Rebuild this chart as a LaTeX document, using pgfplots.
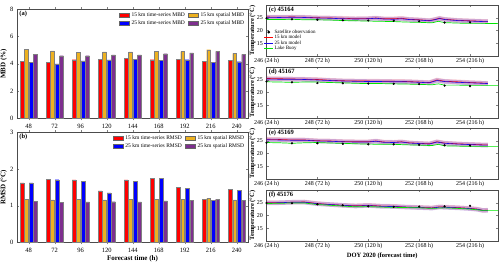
\documentclass[border=0pt]{standalone}
\usepackage{fontspec}
\setmainfont{Liberation Serif}
\usepackage{pgfplots}
\pgfplotsset{compat=1.18}
\usepackage{pgfplotstable}
\definecolor{mred}{RGB}{255,0,0}
\definecolor{morange}{RGB}{237,177,32}
\definecolor{mblue}{RGB}{0,0,255}
\definecolor{mpurple}{RGB}{126,47,142}
\definecolor{mgreen}{RGB}{0,230,0}

\pgfplotstableread{
i r o b p
0 4.20 5.05 4.10 4.70
1 4.10 4.95 4.00 4.60
2 4.30 4.86 4.22 4.60
3 4.35 4.87 4.28 4.65
4 4.40 4.87 4.33 4.65
5 4.30 4.90 4.25 4.74
6 4.35 4.90 4.30 4.80
7 4.20 5.04 4.10 4.91
8 4.25 4.76 4.16 4.70
}\mbd

\pgfplotstableread{
i r o b p
0 1.62 1.18 1.62 1.12
1 1.72 1.16 1.71 1.09
2 1.70 1.17 1.67 1.10
3 1.40 1.16 1.35 1.11
4 1.70 1.17 1.66 1.10
5 1.75 1.17 1.75 1.13
6 1.50 1.17 1.47 1.14
7 1.18 1.20 1.15 1.18
8 1.44 1.16 1.42 1.14
}\rmsd

% panel c 45164
\pgfplotstableread{
t r b
246.0 25.3 25.2
246.5 25.2 25.1
247.0 25.3 25.2
247.5 25.2 25.1
248.0 25.0 24.9
248.5 24.9 24.8
249.0 24.8 24.6
249.5 24.6 24.5
250.0 24.7 24.6
250.3 24.9 24.8
250.6 24.6 24.5
251.0 24.6 24.4
251.3 24.8 24.6
251.6 24.4 24.3
252.0 24.2 24.1
252.4 23.9 23.8
252.6 24.3 24.2
252.8 24.8 24.7
253.0 24.4 24.3
253.5 24.0 23.9
254.0 23.8 23.7
254.5 23.6 23.5
254.7 23.6 23.5
}\modc
\pgfplotstableread{
t g
246.0 24.3
246.5 24.3
247.0 24.4
247.5 24.2
248.0 24.2
248.5 24.1
249.0 23.9
249.5 23.8
250.0 23.7
250.5 23.6
251.0 23.5
251.5 23.3
252.0 23.2
252.5 23.0
252.75 23.6
253.0 23.1
253.5 22.9
254.0 22.8
254.5 22.8
255.1 22.7
}\buoyc
\pgfplotstableread{
t o
246 24.8
247 24.4
248 24.2
249 24.0
250 23.9
251 23.8
252 23.6
253 23.1
254 23.2
}\obsc

% panel d 45167
\pgfplotstableread{
t r b
246.0 25.5 25.3
246.5 25.4 25.2
247.0 25.3 25.2
247.5 25.2 25.1
248.0 25.1 24.9
248.5 24.8 24.7
249.0 24.6 24.5
249.5 24.5 24.4
250.0 24.5 24.3
250.5 24.4 24.3
251.0 24.4 24.2
251.5 24.3 24.2
252.0 24.1 24.0
252.4 23.9 23.8
252.7 24.9 24.7
253.0 24.4 24.3
253.5 24.2 24.0
254.0 23.9 23.8
254.5 23.7 23.6
254.7 23.6 23.5
}\modd
\pgfplotstableread{
t g
246.0 24.2
246.5 24.1
247.0 24.0
247.5 24.1
248.0 24.1
248.5 23.9
249.0 23.8
249.5 23.6
250.0 23.5
250.5 23.5
251.0 23.4
251.5 23.3
252.0 23.2
252.5 23.0
252.75 23.4
253.0 22.9
253.5 22.9
254.0 22.8
254.5 22.8
255.1 22.8
}\buoyd
\pgfplotstableread{
t o
246 24.3
247 24.0
248 23.7
249 23.6
250 23.5
251 23.4
252 23.3
253 22.7
254 22.5
}\obsd

% panel e 45169
\pgfplotstableread{
t r b
246.0 25.6 25.4
246.5 25.5 25.3
247.0 25.3 25.2
247.5 25.3 25.2
248.0 25.0 24.9
248.5 24.9 24.8
249.0 24.7 24.6
249.5 24.6 24.5
250.0 24.6 24.5
250.3 24.9 24.8
250.6 24.5 24.4
251.0 24.4 24.3
251.3 24.6 24.5
251.6 24.2 24.1
252.0 24.0 23.9
252.4 23.8 23.7
252.7 24.6 24.5
253.0 24.1 24.0
253.5 23.8 23.7
254.0 23.6 23.5
254.5 23.4 23.3
254.7 23.4 23.3
}\mode
\pgfplotstableread{
t g
246.0 24.3
246.5 24.2
247.0 24.0
247.5 24.2
248.0 24.3
248.5 24.1
249.0 24.0
249.5 23.8
250.0 23.7
250.5 23.6
251.0 23.6
251.5 23.4
252.0 23.3
252.5 23.1
252.75 23.6
253.0 23.0
253.5 22.9
254.0 22.8
254.5 22.8
255.1 22.8
}\buoye
\pgfplotstableread{
t o
246 24.2
247 24.0
248 24.0
249 23.8
250 23.6
251 23.6
252 23.4
253 23.2
254 23.1
}\obse

% panel f 45176
\pgfplotstableread{
t r b
246.0 25.0 24.9
246.5 25.0 25.0
247.0 25.2 25.2
247.5 25.3 25.2
248.0 24.7 24.6
248.5 24.3 24.3
249.0 24.0 24.0
249.5 23.8 23.7
250.0 24.0 23.9
250.5 23.7 23.6
251.0 23.6 23.5
251.5 23.3 23.3
252.0 23.2 23.1
252.5 23.0 22.9
252.8 23.4 23.3
253.0 23.3 23.2
253.5 23.1 23.0
254.0 22.8 22.7
254.3 22.5 22.4
254.5 22.0 22.0
254.7 22.1 22.0
}\modf
\pgfplotstableread{
t g
246.0 24.7
246.5 24.8
247.0 24.9
247.5 24.9
248.0 24.3
248.5 24.0
249.0 23.7
249.5 23.4
250.0 23.5
250.5 23.3
251.0 23.2
251.5 23.1
252.0 23.0
252.5 22.8
253.0 23.0
253.5 22.8
254.0 22.5
254.5 22.0
255.1 22.0
}\buoyf
\pgfplotstableread{
t o
246 24.9
247 24.8
248 24.4
249 24.0
250 23.6
251 23.4
252 23.5
253 23.6
254 23.8
}\obsf

\pgfplotsset{
  barax/.style={
    scale only axis, width=231pt, anchor=south west,
    xmin=-0.45, xmax=8.43, ymin=0,
    xtick={0,...,8}, xticklabels={48,72,96,120,144,168,192,216,240},
    tick align=inside, major tick length=2pt,
    tick label style={font=\fontsize{6.5}{7}\selectfont},
    /pgf/number format/assume math mode=true,
    label style={font=\bfseries\fontsize{7}{8}\selectfont},
    ylabel style={at={(axis description cs:0,0.5)}, anchor=south, yshift=6.5pt},
    axis line style={black!70, line width=0.4pt},
    ybar=0.6pt, bar width=3.9pt,
    legend columns=2,
    legend cell align=left,
    legend style={at={(rel axis cs:0.995,0.995)}, anchor=north east, draw=none, fill=none,
      font=\fontsize{5.5}{6}\selectfont, inner sep=0.5pt, row sep=-1.5pt,
      /tikz/every even column/.append style={column sep=1.5pt}},
    legend image code/.code={\draw[##1, draw=black!60, line width=0.2pt] (0pt,-2.3pt) rectangle (10pt,2.3pt);},
  },
  tsax/.style={
    scale only axis, width=231.5pt, height=51pt, anchor=south west,
    xmin=246, xmax=255.1, ymin=10, ymax=30,
    ytick={15,20,25},
    xtick={246,248,250,252,254},
    xticklabels={246 (24 h),248 (72 h),250 (120 h),252 (168 h),254 (216 h)},
    tick align=inside, major tick length=2pt,
    tick label style={font=\fontsize{6}{7}\selectfont},
    xticklabel style={yshift=1pt},
    /pgf/number format/assume math mode=true,
    label style={font=\bfseries\fontsize{6.5}{7}\selectfont},
    ylabel={Temperature (°C)},
    ylabel style={at={(axis description cs:0,0.5)}, anchor=south, yshift=7.5pt},
    axis line style={black!70, line width=0.4pt},
    clip=true,
  },
  tslegend/.style={
    legend cell align=left,
    legend style={at={(rel axis cs:-0.015,0.55)}, anchor=north west, draw=none, fill=none,
      font=\fontsize{5}{5.5}\selectfont, inner sep=0.5pt, row sep=-1.4pt,
      nodes={inner sep=1pt}},
    legend image code/.code={\draw[mark repeat=2, mark phase=2, line width=0.9pt, ##1] plot coordinates {(0pt,0pt) (4.5pt,0pt) (9pt,0pt)};},
  },
}

\newcommand{\tsplots}[3]{%
  \addplot[forget plot, mred, opacity=0.18, line width=4.5pt] table[x=t, y=r] {#1};
  \addplot[forget plot, mblue!70!mpurple, opacity=0.22, line width=4.5pt] table[x=t, y=b] {#1};
  \addplot[mred, line width=0.6pt] table[x=t, y=r] {#1};
  \addplot[mblue!80!mpurple, line width=0.6pt] table[x=t, y=b] {#1};
  \addplot[mgreen, line width=0.7pt] table[x=t, y=g] {#2};
  \addplot[forget plot, only marks, mark=*, mark size=0.9pt, black] table[x=t, y=o] {#3};
}

\begin{document}
\begin{tikzpicture}
\path[use as bounding box] (0,0) rectangle (500pt,262pt);

% (a)
\begin{axis}[barax, at={(17pt,143.7pt)}, height=109pt, ymax=8, ytick={0,2,4,6,8},
  ylabel={MBD (\%)}]
  \addplot[fill=mred, draw=black!50, line width=0.15pt] table[x=i, y=r] {\mbd};
  \addlegendentry{15 km time-series MBD}
  \addplot[fill=morange, draw=black!50, line width=0.15pt] table[x=i, y=o] {\mbd};
  \addlegendentry{15 km spatial MBD}
  \addplot[fill=mblue, draw=black!50, line width=0.15pt] table[x=i, y=b] {\mbd};
  \addlegendentry{25 km time-series MBD}
  \addplot[fill=mpurple, draw=black!50, line width=0.15pt] table[x=i, y=p] {\mbd};
  \addlegendentry{25 km spatial MBD}
  \node[anchor=north west, font=\bfseries\fontsize{6.5}{7}\selectfont, inner sep=1pt] at (rel axis cs:0.005,0.995) {(a)};
\end{axis}

% (b)
\begin{axis}[barax, at={(17pt,19.7pt)}, height=110pt, ymax=3, ytick={0,1,2,3},
  ylabel={RMSD (°C)}, xlabel={Forecast time (h)},
  xlabel style={yshift=3pt}]
  \addplot[fill=mred, draw=black!50, line width=0.15pt] table[x=i, y=r] {\rmsd};
  \addlegendentry{15 km time-series RMSD}
  \addplot[fill=morange, draw=black!50, line width=0.15pt] table[x=i, y=o] {\rmsd};
  \addlegendentry{15 km spatial RMSD}
  \addplot[fill=mblue, draw=black!50, line width=0.15pt] table[x=i, y=b] {\rmsd};
  \addlegendentry{25 km time-series RMSD}
  \addplot[fill=mpurple, draw=black!50, line width=0.15pt] table[x=i, y=p] {\rmsd};
  \addlegendentry{25 km spatial RMSD}
  \node[anchor=north west, font=\bfseries\fontsize{6.5}{7}\selectfont, inner sep=1pt] at (rel axis cs:0.005,0.995) {(b)};
\end{axis}

% (c)
\begin{axis}[tsax, tslegend, at={(266.5pt,206pt)}]
  \addlegendimage{only marks, mark=*, mark size=0.9pt, black}
  \tsplots{\modc}{\buoyc}{\obsc}
  \legend{Satellite observation, 15 km model, 25 km model, Lake Buoy}
  \node[anchor=north west, font=\bfseries\fontsize{6.5}{7}\selectfont, inner sep=1pt] at (rel axis cs:0.005,0.99) {(c) 45164};
\end{axis}

% (d)
\begin{axis}[tsax, at={(266.5pt,144pt)}]
  \tsplots{\modd}{\buoyd}{\obsd}
  \node[anchor=north west, font=\bfseries\fontsize{6.5}{7}\selectfont, inner sep=1pt] at (rel axis cs:0.005,0.99) {(d) 45167};
\end{axis}

% (e)
\begin{axis}[tsax, at={(266.5pt,83pt)}]
  \tsplots{\mode}{\buoye}{\obse}
  \node[anchor=north west, font=\bfseries\fontsize{6.5}{7}\selectfont, inner sep=1pt] at (rel axis cs:0.005,0.99) {(e) 45169};
\end{axis}

% (f)
\begin{axis}[tsax, at={(266.5pt,21pt)}, xlabel={DOY 2020 (forecast time)}, xlabel style={yshift=3pt}]
  \tsplots{\modf}{\buoyf}{\obsf}
  \node[anchor=north west, font=\bfseries\fontsize{6.5}{7}\selectfont, inner sep=1pt] at (rel axis cs:0.005,0.99) {(f) 45176};
\end{axis}
\end{tikzpicture}
\end{document}
